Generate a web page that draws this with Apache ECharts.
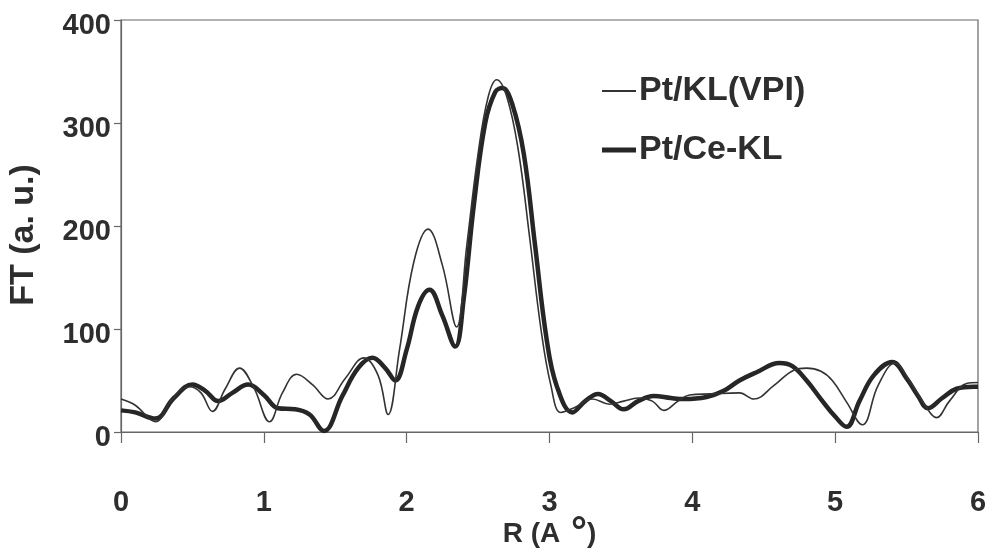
<!DOCTYPE html>
<html>
<head>
<meta charset="utf-8">
<title>FT vs R</title>
<script src="https://cdn.jsdelivr.net/npm/echarts@6/dist/echarts.min.js"></script>
<style>
    html, body { margin: 0; padding: 0; background: #fff; }
    #chart { width: 987px; height: 548px; }
</style>
</head>
<body>
<div id="chart"></div>
<script>
// Pt/KL(VPI) - thin line
const rThin = [0.00, 0.10, 0.24, 0.36, 0.48, 0.56, 0.64, 0.73, 0.83, 0.93, 1.04, 1.13, 1.23, 1.34, 1.45,
    1.57, 1.70, 1.80, 1.87, 1.95, 2.05, 2.15, 2.25, 2.35, 2.42, 2.50, 2.57, 2.63, 2.70, 2.78, 2.86,
    2.94, 3.01, 3.08, 3.18, 3.30, 3.42, 3.52, 3.62, 3.72, 3.80, 3.90, 3.98, 4.13, 4.33, 4.43, 4.57,
    4.71, 4.80, 4.90, 4.98, 5.08, 5.19, 5.30, 5.42, 5.52, 5.62, 5.71, 5.80, 5.92, 6.00];
const ftThin = [32, 26, 10, 32, 44, 38, 20, 42, 62, 43, 10, 38, 56, 46, 32,
    52, 72, 55, 17, 80, 165, 197, 162, 102, 180, 270, 325, 342, 326, 275, 190,
    100, 45, 19, 24, 32, 27, 30, 33, 30, 21, 30, 36, 37, 38, 32, 45,
    60, 62, 59, 50, 29, 7, 45, 67, 50, 28, 14, 30, 47, 48];

// Pt/Ce-KL - thick line
const rThick = [0.00, 0.10, 0.24, 0.37, 0.50, 0.59, 0.68, 0.78, 0.89, 1.00, 1.10, 1.22, 1.32, 1.42,
    1.55, 1.66, 1.76, 1.85, 1.92, 2.00, 2.08, 2.16, 2.25, 2.34, 2.40, 2.47, 2.55, 2.62, 2.67, 2.74,
    2.82, 2.90, 2.98, 3.05, 3.16, 3.25, 3.34, 3.43, 3.52, 3.62, 3.73, 3.85, 3.94, 4.10, 4.22, 4.33,
    4.45, 4.61, 4.70, 4.80, 4.90, 5.00, 5.08, 5.17, 5.27, 5.40, 5.50, 5.58, 5.65, 5.75, 5.85, 5.97, 6.00];
const ftThick = [21, 19, 13, 33, 46, 40, 30, 38, 46, 36, 23, 22, 17, 1,
    35, 62, 72, 62, 50, 80, 122, 138, 113, 83, 130, 220, 300, 330, 334, 318,
    270, 180, 90, 45, 19, 30, 37, 30, 22, 30, 35, 33, 32, 34, 40, 50,
    58, 67, 64, 50, 32, 15, 5, 30, 55, 68, 52, 35, 23, 33, 42, 44, 44];

const xTicks = [0, 1, 2, 3, 4, 5, 6];
const yTicks = [0, 100, 200, 300, 400];

const FONT = '"Liberation Sans", Arial, sans-serif';
const TEXT_COLOR = '#2e2e2e';
const AXIS_COLOR = '#666';

const pairs = (xs, ys) => xs.map((x, i) => [x, ys[i]]);

const chart = echarts.init(document.getElementById('chart'), null, { renderer: 'canvas' });

const option = {
    backgroundColor: '#fff',
    animation: false,
    grid: {
        left: 121, right: 9, top: 20, bottom: 116,
        outerBoundsMode: 'none',
        containLabel: false,
        show: true,
        borderColor: AXIS_COLOR,
        borderWidth: 1.2
    },
    legend: {
        orient: 'vertical',
        left: 597,
        top: 69,
        itemWidth: 34,
        itemHeight: 14,
        itemGap: 25,
        textStyle: { fontFamily: FONT, fontWeight: 'bold', fontSize: 34, color: TEXT_COLOR, lineHeight: 34, padding: [0, 0, 0, -2] },
        data: [
            { name: 'Pt/KL(VPI)', icon: 'path://M0,0h34v1.8h-34z' },
            { name: 'Pt/Ce-KL', icon: 'path://M0,0h34v5h-34z' }
        ]
    },
    xAxis: {
        type: 'value',
        min: xTicks[0],
        max: xTicks[xTicks.length - 1],
        interval: 1,
        name: '{n|R (A }{g| }{s|°}{n|)}',
        nameLocation: 'middle',
        nameGap: 87,
        nameMoveOverlap: false,
        nameTextStyle: {
            rich: {
                n: { fontFamily: FONT, fontWeight: 'bold', fontSize: 28, color: TEXT_COLOR, lineHeight: 30 },
                g: { fontFamily: FONT, fontSize: 10, lineHeight: 30 },
                s: { fontFamily: FONT, fontWeight: 'bold', fontSize: 40, color: TEXT_COLOR, lineHeight: 30 }
            }
        },
        splitLine: { show: false },
        axisLine: { lineStyle: { color: AXIS_COLOR, width: 1.2 } },
        axisTick: { inside: false, length: 11, lineStyle: { color: AXIS_COLOR, width: 1.2 } },
        axisLabel: { margin: 56, fontFamily: FONT, fontWeight: 'bold', fontSize: 29, color: TEXT_COLOR, showMaxLabel: true, showMinLabel: true }
    },
    yAxis: {
        type: 'value',
        min: yTicks[0],
        max: yTicks[yTicks.length - 1],
        interval: 100,
        name: '{t|FT (a. u.)}',
        nameLocation: 'middle',
        nameGap: 80,
        nameMoveOverlap: false,
        nameTextStyle: {
            rich: {
                t: { fontFamily: FONT, fontWeight: 'bold', fontSize: 34, color: TEXT_COLOR, padding: [0, 18, 0, 0] }
            }
        },
        splitLine: { show: false },
        axisLine: { show: true, lineStyle: { color: AXIS_COLOR, width: 1.2 } },
        axisTick: { show: true, inside: false, length: 7, lineStyle: { color: AXIS_COLOR, width: 1.2 } },
        axisLabel: {
            margin: 10,
            formatter: v => '{v|' + v + '}',
            rich: {
                v: { fontFamily: FONT, fontWeight: 'bold', fontSize: 29, color: TEXT_COLOR, padding: [12, 0, 0, 0] }
            }
        }
    },
    series: [
        {
            name: 'Pt/KL(VPI)',
            type: 'line',
            data: pairs(rThin, ftThin),
            smooth: 0.4,
            symbol: 'none',
            lineStyle: { color: '#333', width: 1.6 },
            itemStyle: { color: '#333' },
            z: 3
        },
        {
            name: 'Pt/Ce-KL',
            type: 'line',
            data: pairs(rThick, ftThick),
            smooth: 0.4,
            symbol: 'none',
            lineStyle: { color: '#262626', width: 4.5 },
            itemStyle: { color: '#262626' },
            z: 2
        }
    ]
};

chart.setOption(option);
</script>
</body>
</html>
